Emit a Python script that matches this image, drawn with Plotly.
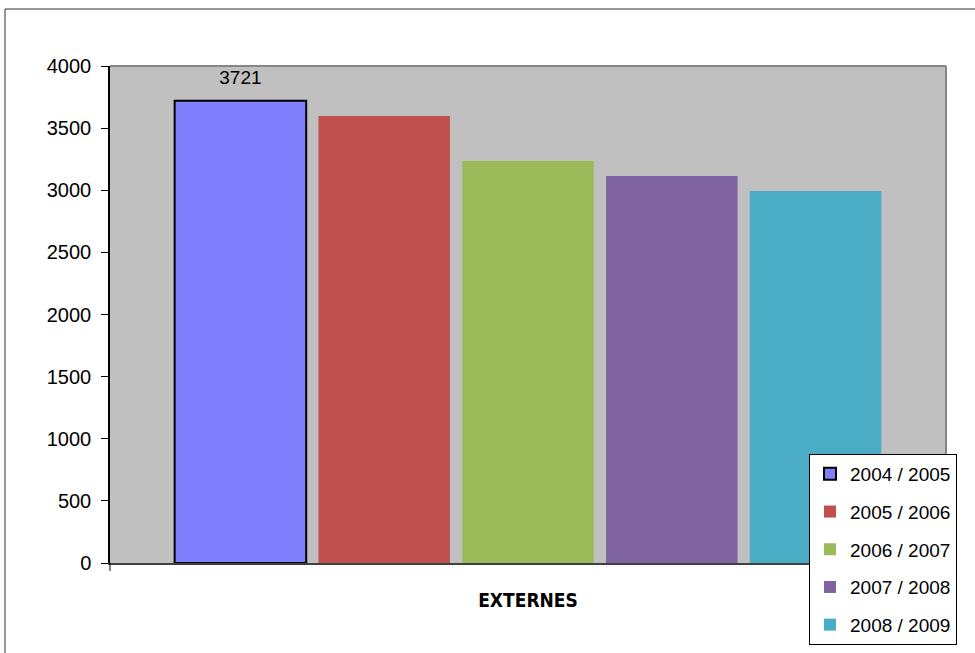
import plotly.graph_objects as go

categories = ["EXTERNES"]
seasons = ["2004 / 2005", "2005 / 2006", "2006 / 2007", "2007 / 2008", "2008 / 2009"]
values = [3721, 3598, 3235, 3115, 2994]
colors = ["#8080FF", "#C0504D", "#9BBB59", "#8064A2", "#4BACC6"]
y_ticks = [0, 500, 1000, 1500, 2000, 2500, 3000, 3500, 4000]

W, H = 975, 653
ML, MR, MT, MB = 110, 975 - 946, 66, 653 - 563
PW, PH = W - ML - MR, H - MT - MB

fig = go.Figure()
for i, (s, v, c) in enumerate(zip(seasons, values, colors)):
    first = i == 0
    fig.add_trace(go.Bar(
        x=categories, y=[v], name=s,
        marker=dict(color=c, line=dict(color="black", width=2 if first else 0)),
        text=[f"<span style='font-size:19px'>{v}</span><br> "] if first else None,
        textposition="outside" if first else "none",
        textfont=dict(family="Liberation Sans, Arial, sans-serif", size=9, color="black"),
        cliponaxis=False,
        legendgroup=s,
    ))

def px_x(p):
    return (p - ML) / PW

def px_y(p):
    return (H - MB - p) / PH

fig.update_layout(
    width=W, height=H,
    margin=dict(l=ML, r=MR, t=MT, b=MB, autoexpand=False),
    paper_bgcolor="white",
    plot_bgcolor="#C0C0C0",
    barmode="group",
    bargap=0.14,
    bargroupgap=0.085,
    showlegend=True,
    legend=dict(
        x=px_x(957), xanchor="right", y=px_y(454), yanchor="top",
        bgcolor="white", bordercolor="black", borderwidth=1,
        font=dict(family="Liberation Sans, Arial, sans-serif", size=19, color="black"),
        tracegroupgap=10, itemwidth=30,
    ),
    xaxis=dict(
        type="category", showgrid=False, zeroline=False,
        showline=True, linecolor="#404040", linewidth=2,
        ticks="", ticklabelstandoff=19,
        tickfont=dict(family="Liberation Sans Narrow, DejaVu Sans Condensed, Arial Narrow, sans-serif",
                      size=19, color="black", weight="bold"),
    ),
    yaxis=dict(
        range=[0, 4000], tickvals=y_ticks, showgrid=False, zeroline=False,
        showline=True, linecolor="black", linewidth=1.5,
        ticks="outside", ticklen=7, tickcolor="black", tickwidth=1,
        ticklabelstandoff=6,
        tickfont=dict(family="Liberation Sans, Arial, sans-serif", size=20, color="black"),
    ),
    shapes=[
        # plot area top and right border
        dict(type="line", xref="x domain", yref="y domain", x0=0, x1=1, y0=1, y1=1,
             line=dict(color="#868686", width=2)),
        dict(type="line", xref="x domain", yref="y domain", x0=1, x1=1, y0=0, y1=1,
             line=dict(color="#868686", width=2)),
        # x tick mark at left
        dict(type="line", xref="x domain", yref="y domain", x0=0, x1=0,
             ysizemode="pixel", yanchor=0, y0=0, y1=-8,
             line=dict(color="black", width=1)),
        # outer chart border
        dict(type="rect", xref="paper", yref="paper",
             x0=px_x(5), x1=px_x(990), y0=px_y(670), y1=px_y(9),
             line=dict(color="#303030", width=1), fillcolor="rgba(0,0,0,0)", layer="below"),
    ],
)

fig.write_html(
    "out.html",
    config={"displayModeBar": False},
    post_script="document.body.style.margin='0px';document.body.style.overflow='hidden';",
)
